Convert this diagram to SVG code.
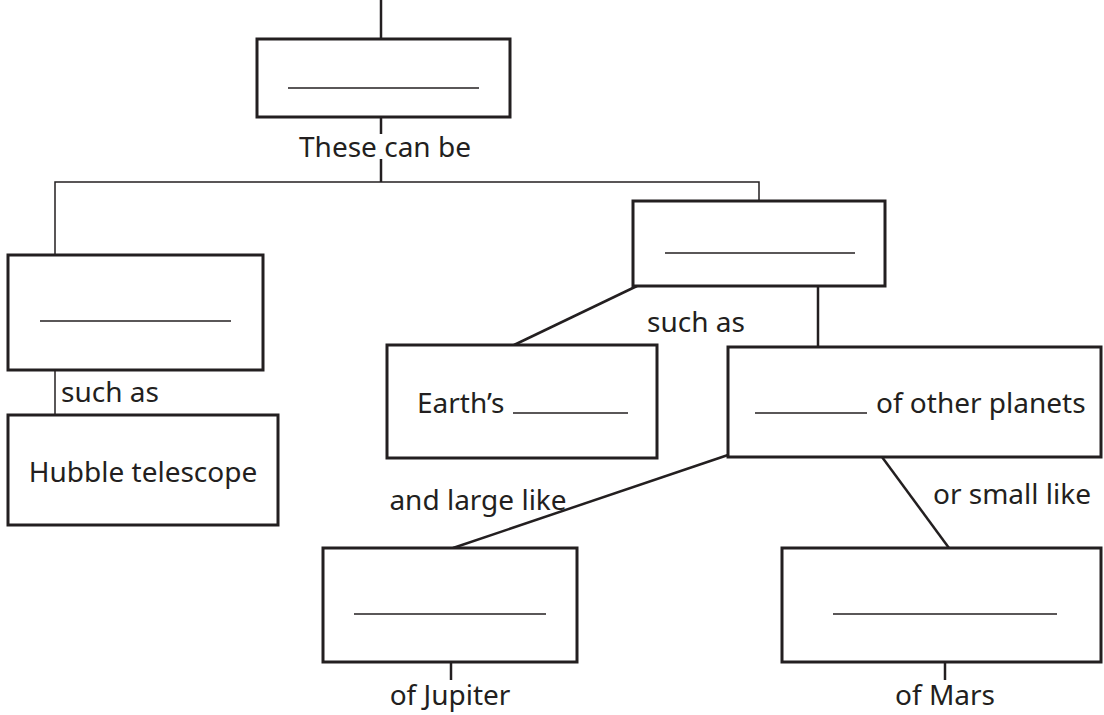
<svg xmlns="http://www.w3.org/2000/svg" width="1104" height="715" viewBox="0 0 1104 715">
<style>
.box{fill:#fff;stroke:#231f20;stroke-width:3}
.blank{stroke:#231f20;stroke-width:1.5}
.con{stroke:#231f20;stroke-width:2.5;fill:none}
.thin{stroke:#231f20;stroke-width:1.5;fill:none}
text{font-family:"Noto Sans","Open Sans",sans-serif;font-size:28px;fill:#231f20}
</style>
<rect width="1104" height="715" fill="#fff"/>
<g id="connectors">
<line class="con" x1="381" y1="0" x2="381" y2="39"/>
<line class="con" x1="381" y1="117" x2="381" y2="134"/>
<line class="con" x1="381" y1="159" x2="381" y2="182"/>
<polyline class="thin" points="55,255 55,182 759,182 759,201"/>
<line class="thin" x1="55" y1="370" x2="55" y2="415"/>
<line class="con" x1="637" y1="286" x2="514" y2="345"/>
<line class="con" x1="818" y1="286" x2="818" y2="347"/>
<line class="con" x1="728" y1="455" x2="453" y2="548"/>
<line class="con" x1="882" y1="457" x2="949" y2="548"/>
<line class="con" x1="451" y1="662" x2="451" y2="680"/>
<line class="con" x1="945" y1="662" x2="945" y2="680"/>
<text x="385" y="157" text-anchor="middle">These can be</text>
<text x="61" y="402">such as</text>
<text x="696" y="332" text-anchor="middle">such as</text>
<text x="478" y="510" text-anchor="middle">and large like</text>
<text x="1012" y="504" text-anchor="middle">or small like</text>
<text x="450" y="705" text-anchor="middle">of Jupiter</text>
<text x="945" y="705" text-anchor="middle">of Mars</text>
</g>
<g id="top">
<rect class="box" x="257" y="39" width="253" height="78"/>
<line class="blank" x1="288" y1="88" x2="479" y2="88"/>
</g>
<g id="left">
<rect class="box" x="8" y="255" width="255" height="115"/>
<line class="blank" x1="40" y1="321" x2="231" y2="321"/>
</g>
<g id="hubble">
<rect class="box" x="8" y="415" width="270" height="110"/>
<text x="143" y="482" text-anchor="middle">Hubble telescope</text>
</g>
<g id="right">
<rect class="box" x="633" y="201" width="252" height="85"/>
<line class="blank" x1="665" y1="253" x2="855" y2="253"/>
</g>
<g id="earth">
<rect class="box" x="387" y="345" width="270" height="113"/>
<text x="417" y="413">Earth’s</text>
<line class="blank" x1="513" y1="413" x2="628" y2="413"/>
</g>
<g id="planets">
<rect class="box" x="728" y="347" width="373" height="110"/>
<line class="blank" x1="755" y1="413" x2="867" y2="413"/>
<text x="876" y="413">of other planets</text>
</g>
<g id="jupiter">
<rect class="box" x="323" y="548" width="254" height="114"/>
<line class="blank" x1="354" y1="614" x2="546" y2="614"/>
</g>
<g id="mars">
<rect class="box" x="782" y="548" width="319" height="114"/>
<line class="blank" x1="833" y1="614" x2="1057" y2="614"/>
</g>
</svg>
